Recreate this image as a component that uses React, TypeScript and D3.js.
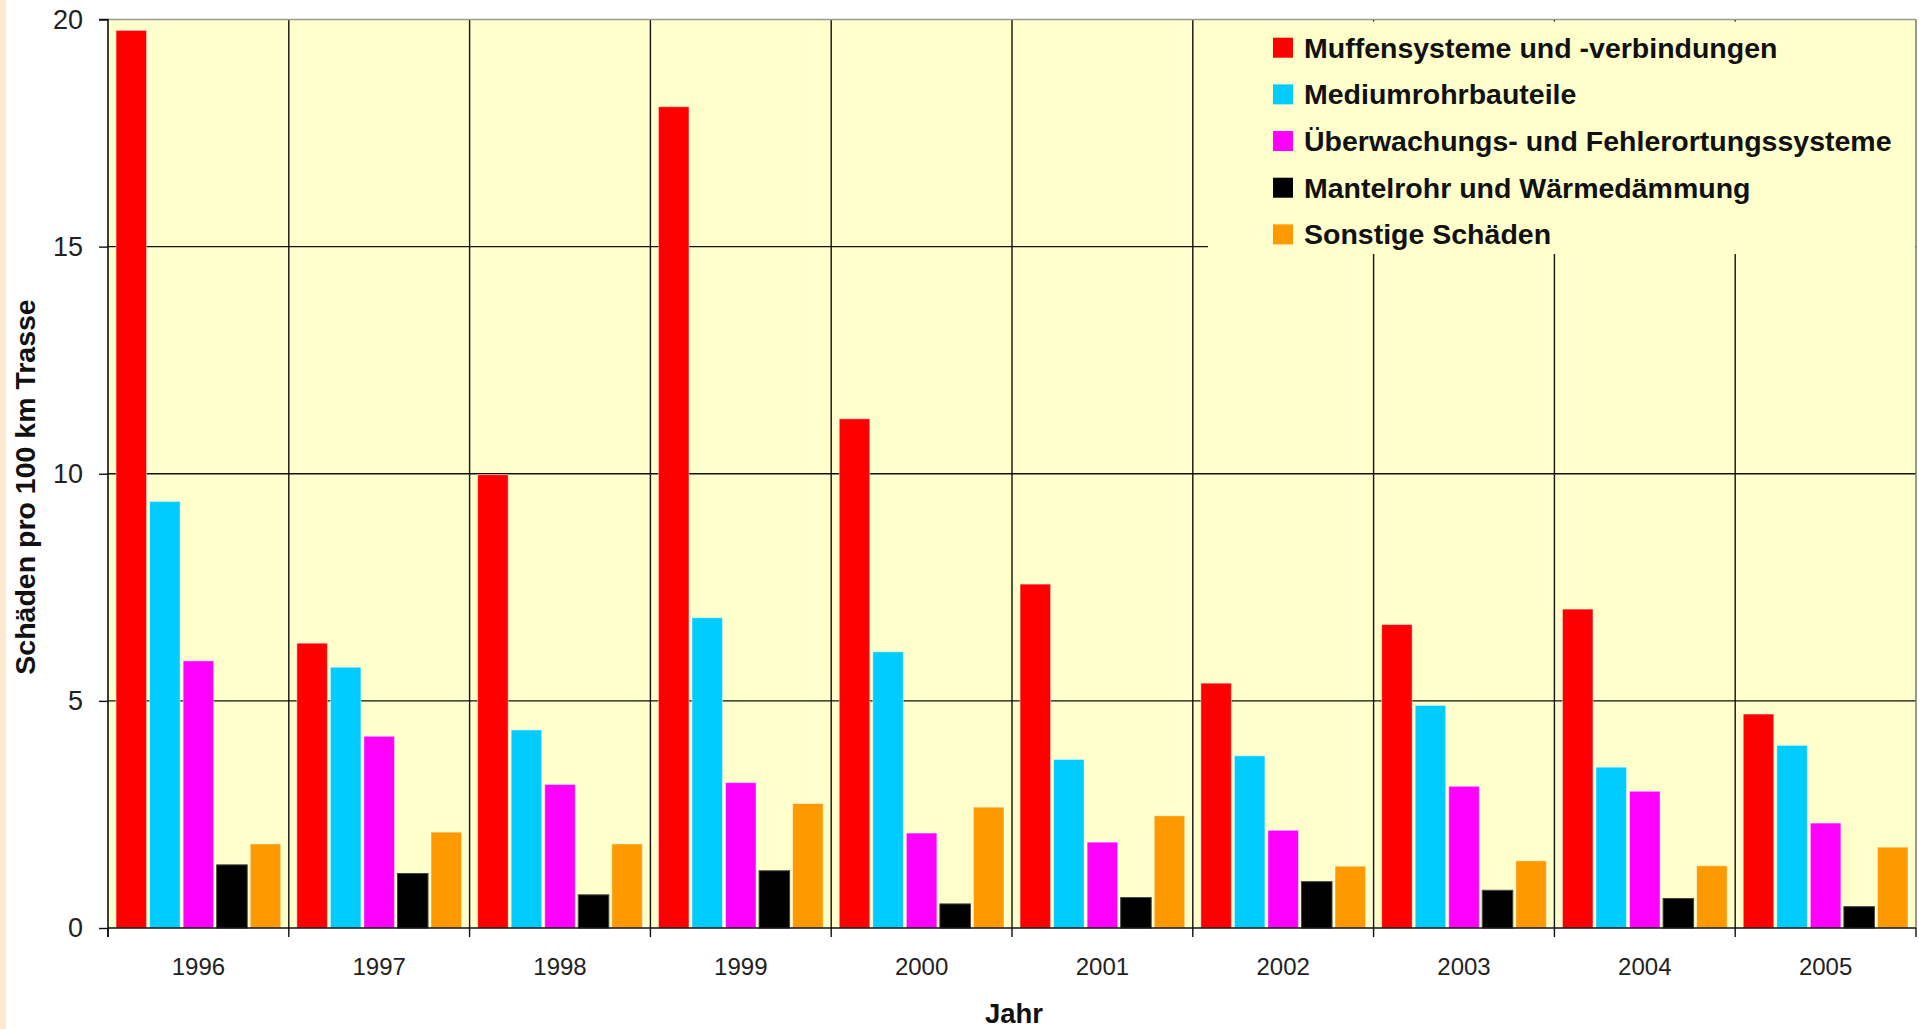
import React, { useEffect, useRef } from "react";
import * as d3 from "d3";

const years = ["1996", "1997", "1998", "1999", "2000", "2001", "2002", "2003", "2004", "2005"];
const seriesNames = [
  "Muffensysteme und -verbindungen",
  "Mediumrohrbauteile",
  "Überwachungs- und Fehlerortungssysteme",
  "Mantelrohr und Wärmedämmung",
  "Sonstige Schäden",
];
const seriesColors = ["#FF0000", "#00CCFF", "#FF00FF", "#000000", "#FF9900"];
const muffen = [19.76, 6.27, 9.98, 18.08, 11.21, 7.57, 5.39, 6.68, 7.02, 4.71];
const medium = [9.39, 5.74, 4.36, 6.83, 6.08, 3.71, 3.79, 4.9, 3.54, 4.02];
const ueberwachung = [5.88, 4.22, 3.16, 3.2, 2.09, 1.89, 2.15, 3.12, 3.01, 2.31];
const mantel = [1.39, 1.2, 0.73, 1.26, 0.53, 0.67, 1.02, 0.83, 0.65, 0.47];
const sonstige = [1.85, 2.11, 1.85, 2.74, 2.66, 2.47, 1.36, 1.48, 1.37, 1.78];
const yTicks = [0, 5, 10, 15, 20];
const yTitle = "Schäden pro 100 km Trasse";
const xTitle = "Jahr";

const W = 1919;
const H = 1029;
const M = { left: 108, right: 1916, top: 19.5, bottom: 928 };

export default function App() {
  const ref = useRef<SVGSVGElement>(null);

  useEffect(() => {
    const svg = d3.select(ref.current);
    svg.selectAll("*").remove();
    const values = [muffen, medium, ueberwachung, mantel, sonstige];
    const font = "'Liberation Sans', Arial, sans-serif";

    const x0 = d3.scaleBand<string>().domain(years).range([M.left, M.right]).padding(0);
    const x1 = d3
      .scaleBand<string>()
      .domain(seriesNames)
      .range([0, x0.bandwidth()])
      .paddingInner(0.09)
      .paddingOuter(0.24);
    const y = d3.scaleLinear().domain([0, 20]).range([M.bottom, M.top]);

    svg.append("rect").attr("x", 0).attr("y", 0).attr("width", W).attr("height", H).attr("fill", "#ffffff");
    svg.append("rect").attr("x", 0).attr("y", 0).attr("width", 6).attr("height", H).attr("fill", "#fde9d0");

    // plot background
    svg
      .append("rect")
      .attr("x", M.left)
      .attr("y", M.top)
      .attr("width", M.right - M.left)
      .attr("height", M.bottom - M.top)
      .attr("fill", "#FFFFCC");

    // horizontal gridlines
    svg
      .append("g")
      .selectAll("line")
      .data(yTicks.filter((t) => t > 0 && t < 20))
      .join("line")
      .attr("x1", M.left)
      .attr("x2", M.right)
      .attr("y1", (d) => y(d))
      .attr("y2", (d) => y(d))
      .attr("stroke", "#111")
      .attr("stroke-width", 1.4);

    // vertical gridlines
    const bounds = years.slice(1).map((yr) => x0(yr) as number);
    svg
      .append("g")
      .selectAll("line")
      .data(bounds)
      .join("line")
      .attr("x1", (d) => d)
      .attr("x2", (d) => d)
      .attr("y1", M.top)
      .attr("y2", M.bottom)
      .attr("stroke", "#111")
      .attr("stroke-width", 1.4);

    // legend background (covers gridlines)
    const legX = 1208;
    svg
      .append("rect")
      .attr("x", legX)
      .attr("y", 21.5)
      .attr("width", M.right - legX - 1)
      .attr("height", 254 - 21.5)
      .attr("fill", "#FFFFCC");

    // top & right border
    svg
      .append("line")
      .attr("x1", M.left)
      .attr("x2", M.right)
      .attr("y1", M.top)
      .attr("y2", M.top)
      .attr("stroke", "#9a9a9a")
      .attr("stroke-width", 1.5);
    svg
      .append("line")
      .attr("x1", M.right)
      .attr("x2", M.right)
      .attr("y1", M.top)
      .attr("y2", M.bottom)
      .attr("stroke", "#777")
      .attr("stroke-width", 1.5);

    // bars
    const groups = svg
      .append("g")
      .selectAll("g")
      .data(years)
      .join("g")
      .attr("transform", (d) => `translate(${x0(d)},0)`);
    groups
      .selectAll("rect")
      .data((_, i) => seriesNames.map((s, k) => ({ s, k, v: values[k][i] })))
      .join("rect")
      .attr("x", (d) => x1(d.s) as number)
      .attr("width", x1.bandwidth())
      .attr("y", (d) => y(d.v))
      .attr("height", (d) => y(0) - y(d.v))
      .attr("fill", (d) => seriesColors[d.k])
      .attr("stroke", (d) => (d.k === 3 ? "#444" : "rgba(255,255,255,0.45)"))
      .attr("stroke-width", 1);

    // y axis
    const yAxis = d3
      .axisLeft(y)
      .tickValues(yTicks)
      .tickSize(9)
      .tickPadding(16)
      .tickFormat((d) => String(d));
    const yg = svg.append("g").attr("transform", `translate(${M.left},0)`).call(yAxis);
    yg.select(".domain").attr("stroke", "#111").attr("stroke-width", 1.6).attr("d", `M-9,${M.top}H0V${M.bottom + 9}`);
    yg.selectAll(".tick line").attr("stroke", "#111").attr("stroke-width", 1.4);
    yg.selectAll(".tick text")
      .attr("font-family", font)
      .attr("font-size", 27)
      .attr("fill", "#222");

    // x axis
    const xAxis = d3.axisBottom(x0).tickSize(0).tickPadding(0);
    const xg = svg.append("g").attr("transform", `translate(0,${M.bottom})`).call(xAxis);
    xg.select(".domain").attr("stroke", "#111").attr("stroke-width", 1.6).attr("d", `M${M.left},0H${M.right}`);
    xg.selectAll(".tick text")
      .attr("font-family", font)
      .attr("font-size", 24)
      .attr("fill", "#222")
      .attr("dy", null)
      .attr("y", 47);
    const tickPos = [...years.map((yr) => x0(yr) as number), M.right];
    xg.append("g")
      .selectAll("line")
      .data(tickPos)
      .join("line")
      .attr("x1", (d) => d)
      .attr("x2", (d) => d)
      .attr("y1", 0)
      .attr("y2", 9)
      .attr("stroke", "#111")
      .attr("stroke-width", 1.4);

    // titles
    svg
      .append("text")
      .attr("transform", `translate(35,487) rotate(-90)`)
      .attr("text-anchor", "middle")
      .attr("font-family", font)
      .attr("font-weight", "bold")
      .attr("font-size", 28.5)
      .attr("fill", "#111")
      .text(yTitle);
    svg
      .append("text")
      .attr("x", 1014)
      .attr("y", 1023)
      .attr("text-anchor", "middle")
      .attr("font-family", font)
      .attr("font-weight", "bold")
      .attr("font-size", 27.5)
      .attr("fill", "#111")
      .text(xTitle);

    // legend
    const leg = svg
      .append("g")
      .selectAll("g")
      .data(seriesNames)
      .join("g")
      .attr("transform", (_, i) => `translate(1273,${37.7 + i * 46.67})`);
    leg
      .append("rect")
      .attr("width", 20)
      .attr("height", 20)
      .attr("fill", (_, i) => seriesColors[i]);
    leg
      .append("text")
      .attr("x", 31)
      .attr("y", 20)
      .attr("font-family", font)
      .attr("font-weight", "bold")
      .attr("font-size", 28.5)
      .attr("fill", "#111")
      .text((d) => d);
  }, []);

  return (
    <svg
      ref={ref}
      width={W}
      height={H}
      style={{ position: "absolute", left: 0, top: 0, display: "block" }}
    />
  );
}
